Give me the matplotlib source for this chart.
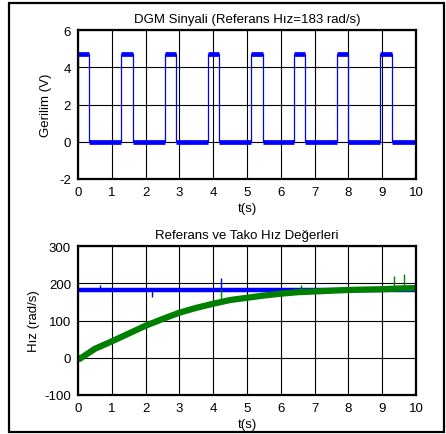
import numpy as np
import matplotlib.pyplot as plt
from matplotlib.patches import Rectangle

plt.rcParams['font.family'] = ['Liberation Sans', 'DejaVu Sans']
plt.rcParams['font.size'] = 9
plt.rcParams['axes.unicode_minus'] = False

# DGM sinyali: yukselen / dusen kenar zamanlari (s)
rise_t = [0.0, 1.28, 2.57, 3.84, 5.11, 6.40, 7.67, 8.94]
fall_t = [0.34, 1.62, 2.90, 4.18, 5.46, 6.73, 8.00, 9.28]
v_high = 4.70
v_low = -0.03
t_end = 10.0

# Referans hiz (rad/s) ve tako hiz okumalari
ref_t = [0.0, 10.0]
ref_w = [181, 181]
ref_spike_t = [0.65, 2.2, 4.22, 6.6]
ref_spike_lo = [181, 163, 181, 170]
ref_spike_hi = [196, 181, 214, 190]

tako_t = [0.0, 0.05, 0.5, 1.0, 1.5, 2.0, 2.5, 3.0, 3.5, 4.0, 4.5, 5.0,
          5.5, 6.0, 6.5, 7.0, 7.5, 8.0, 8.5, 9.0, 9.5, 10.0]
tako_w = [0, -3, 24, 44, 65, 86, 104, 121, 134, 145, 155, 161,
          167, 172, 176, 178, 180, 182, 183, 184, 186, 187]
tako_spike_t = [4.22, 9.35, 9.65, 6.6]
tako_spike_lo = [150, 185, 186, 176]
tako_spike_hi = [185, 220, 224, 196]

fig = plt.figure(figsize=(4.46, 4.35), dpi=100)
fig.patches.append(Rectangle((9 / 446, 1 - 433 / 435), 435 / 446, 429 / 435,
                             transform=fig.transFigure, fill=False,
                             edgecolor='black', linewidth=1.6))

W, H = 446, 435
ax1 = fig.add_axes([78 / W, 1 - 180 / H, 338 / W, 149 / H])
ax2 = fig.add_axes([78 / W, 1 - 396 / H, 338 / W, 149 / H])

# Ust grafik: kare dalga
tt = []
vv = []
for r, f in zip(rise_t, fall_t):
    tt += [r, r, f, f]
    vv += [v_low, v_high, v_high, v_low]
tt.append(t_end)
vv.append(v_low)
ax1.plot(tt, vv, color='blue', linewidth=0.9)
ax1.hlines([v_high] * len(rise_t), rise_t, fall_t, color='blue', linewidth=3.4)
lows_s = fall_t
lows_e = rise_t[1:] + [t_end]
ax1.hlines([v_low] * len(lows_s), lows_s, lows_e, color='blue', linewidth=3.4)

ax1.set_xlim(0, 10)
ax1.set_ylim(-2, 6)
ax1.set_xticks(range(0, 11))
ax1.set_yticks([-2, 0, 2, 4, 6])
ax1.set_title('DGM Sinyali (Referans Hız=183 rad/s)', fontsize=9.5, pad=6)
ax1.set_xlabel('t(s)', fontsize=9.5, labelpad=3)
ax1.set_ylabel('Gerilim (V)', fontsize=9.5, labelpad=5)

# Alt grafik: hizlar
ax2.plot(ref_t, ref_w, color='blue', linewidth=3.2)
ax2.vlines(ref_spike_t, ref_spike_lo, ref_spike_hi, color='blue', linewidth=1.0)
ax2.plot(tako_t, tako_w, color='green', linewidth=4.5)
ax2.vlines(tako_spike_t, tako_spike_lo, tako_spike_hi, color='green', linewidth=1.0)
ax2.set_xlim(0, 10)
ax2.set_ylim(-100, 300)
ax2.set_xticks(range(0, 11))
ax2.set_yticks([-100, 0, 100, 200, 300])
ax2.set_title('Referans ve Tako Hız Değerleri', fontsize=9.5, pad=6)
ax2.set_xlabel('t(s)', fontsize=9.5, labelpad=3)
ax2.set_ylabel('Hız (rad/s)', fontsize=9.5, labelpad=3)

for ax in (ax1, ax2):
    ax.grid(True, color='black', linewidth=0.8)
    ax.set_axisbelow(True)
    ax.tick_params(length=0, pad=5, labelsize=9.5)
    for s in ax.spines.values():
        s.set_linewidth(1.6)

fig.savefig('out.png', dpi=100)
